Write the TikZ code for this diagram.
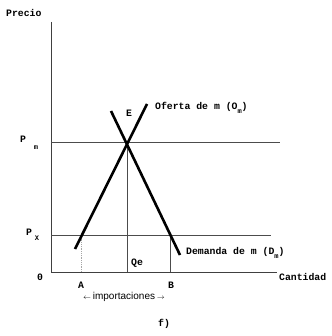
\documentclass[tikz,border=0pt]{standalone}
\usepackage{fontspec}
\setmainfont{Liberation Mono}
\newfontfamily\sansf{Liberation Sans}
\begin{document}
\begin{tikzpicture}[x=1pt,y=-1pt,
  axisline/.style={draw=black!75,line width=0.9pt},
  guide/.style={draw=black!70,line width=0.7pt},
  dotguide/.style={draw=black!35,line width=0.8pt,densely dotted},
  curve/.style={draw=black,line width=2.6pt},
  lbl/.style={inner sep=0pt,font=\bfseries\fontsize{9.8}{11}\selectfont},
  sublbl/.style={inner sep=0pt,font=\bfseries\fontsize{7}{8}\selectfont}]
\useasboundingbox (0,0) rectangle (331,336);
% coordinates
\coordinate (O) at (51,272);
\coordinate (Ytop) at (51,22);
\coordinate (Xend) at (277,272);
\coordinate (PmL) at (51,142);
\coordinate (PmR) at (280,142);
\coordinate (PxL) at (51,235);
\coordinate (PxR) at (271,235);
\coordinate (E) at (127,142);
\coordinate (Qe) at (127,272);
\coordinate (Atop) at (81,235);
\coordinate (Abot) at (81,272);
\coordinate (Btop) at (170,235);
\coordinate (Bbot) at (170,272);
\coordinate (S1) at (75,249);
\coordinate (S2) at (147,104);
\coordinate (D1) at (111,111);
\coordinate (D2) at (180,255);
% guide lines
\draw[axisline] (Ytop) -- (O) -- (Xend);
\draw[guide] (PmL) -- (PmR);
\draw[guide] (PxL) -- (PxR);
\draw[guide] (E) -- (Qe);
\draw[guide] (Btop) -- (Bbot);
\draw[dotguide] (Atop) -- (Abot);
% curves
\draw[curve] (S1) -- (S2);
\draw[curve] (D1) -- (D2);
% labels
\node[lbl,anchor=west] (precio) at (6,13) {Precio};
\node[lbl] (pm) at (23,139) {P};
\node[sublbl] (pmsub) at (36,148) {m};
\node[lbl] (px) at (29,232) {P};
\node[sublbl] (pxsub) at (37,238) {X};
\node[lbl] (e) at (129,113) {E};
\node[lbl,anchor=west] (of) at (155,108) {Oferta de m (O\raisebox{-4pt}{\fontsize{7}{8}\selectfont m})};
\node[lbl,anchor=west] (dem) at (186,253) {Demanda de m (D\raisebox{-4pt}{\fontsize{7}{8}\selectfont m})};
\node[lbl] (zero) at (40,277) {0};
\node[lbl] (qe) at (137,263) {Qe};
\node[lbl] (a) at (81,285) {A};
\node[lbl] (b) at (171,285) {B};
\node[lbl,anchor=west] (cant) at (279,277) {Cantidad};
\node[inner sep=0pt,font=\sansf\fontsize{10}{11}\selectfont] (imp) at (124,297) {{\fontsize{7}{8}\selectfont$\leftarrow$}\,importaciones\,{\fontsize{7}{8}\selectfont$\rightarrow$}};
\node[lbl] (f) at (164,324) {f)};
\end{tikzpicture}
\end{document}
